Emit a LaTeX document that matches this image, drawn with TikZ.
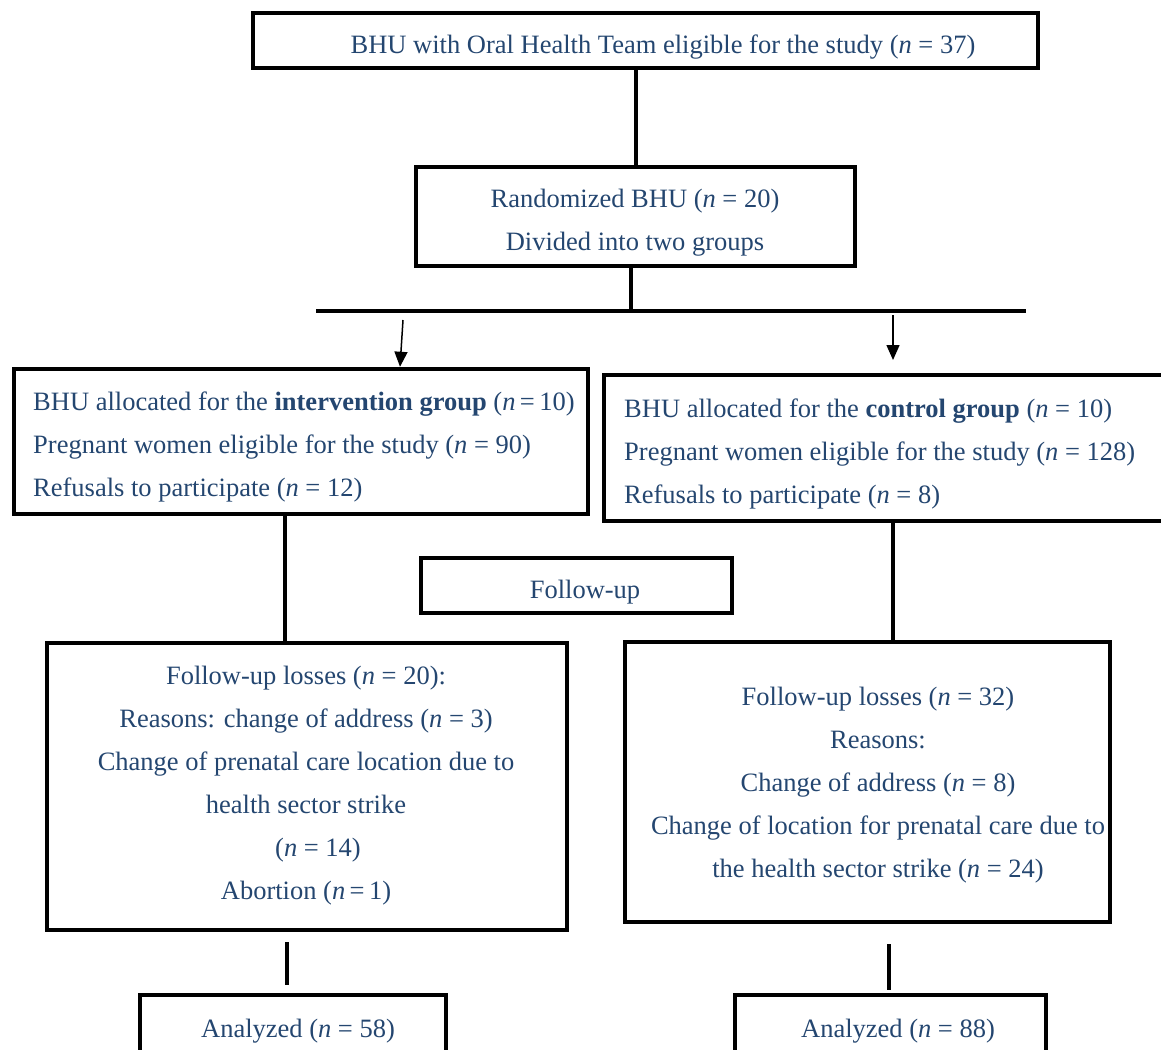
\documentclass[tikz,border=0pt]{standalone}
\usepackage{fontspec}
\setmainfont{Liberation Serif}
\usetikzlibrary{arrows.meta}
\definecolor{txt}{RGB}{36,70,112}
\begin{document}
\begin{tikzpicture}[x=1pt,y=-1pt,
  box/.style={draw=black, line width=4.5pt, fill=white, inner sep=0pt},
  lbl/.style={text=txt, font=\fontsize{26.5}{43}\selectfont, align=center, inner sep=0pt},
  conn/.style={line width=4pt},
  arr/.style={line width=1.5pt, -{Triangle[width=13pt,length=15pt]}}
]
\useasboundingbox (0,0) rectangle (1161,1049);
\clip (0,0) rectangle (1161,1049);

% boxes
\node[box, minimum width=785pt, minimum height=55pt] (top) at (645.5,40.5) {};
\node[box, minimum width=439pt, minimum height=99pt] (rand) at (635.5,216.5) {};
\node[box, minimum width=574pt, minimum height=145pt] (int) at (301,441.5) {};
\node[box, minimum width=574pt, minimum height=146pt] (ctrl) at (891,448) {};
\node[box, minimum width=311pt, minimum height=55pt] (follow) at (576.5,585.5) {};
\node[box, minimum width=520pt, minimum height=287pt] (lossL) at (307,786.5) {};
\node[box, minimum width=485pt, minimum height=280pt] (lossR) at (867.5,782) {};
\node[box, minimum width=306pt, minimum height=90pt] (anL) at (293,1040) {};
\node[box, minimum width=311pt, minimum height=90pt] (anR) at (890.5,1040) {};

% texts
\node[lbl] (topT) at (663,47) {BHU with Oral Health Team eligible for the study (\textit{n} = 37)};
\node[lbl] (randT) at (635,223) {Randomized BHU (\textit{n} = 20)\\Divided into two groups};
\node[lbl, anchor=west, align=left] (intT) at (33,446.5) {BHU allocated for the \textbf{intervention group} (\textit{n}\,=\,10)\\Pregnant women eligible for the study (\textit{n} = 90)\\Refusals to participate (\textit{n} = 12)};
\node[lbl, anchor=west, align=left] (ctrlT) at (624,453.5) {BHU allocated for the \textbf{control group} (\textit{n} = 10)\\Pregnant women eligible for the study (\textit{n} = 128)\\Refusals to participate (\textit{n} = 8)};
\node[lbl] (followT) at (585,592) {Follow-up};
\node[lbl] (lossLT) at (306,785.5) {Follow-up losses (\textit{n} = 20):\\Reasons: change of address (\textit{n} = 3)\\Change of prenatal care location due to\\health sector strike\\\hspace*{24pt}(\textit{n} = 14)\\Abortion (\textit{n}\,=\,1)};
\node[lbl] (lossRT) at (878,785.5) {Follow-up losses (\textit{n} = 32)\\Reasons:\\Change of address (\textit{n} = 8)\\Change of location for prenatal care due to\\the health sector strike (\textit{n} = 24)};
\node[lbl] (anLT) at (298,1031) {Analyzed (\textit{n} = 58)};
\node[lbl] (anRT) at (898,1031) {Analyzed (\textit{n} = 88)};

% connector coordinates
\coordinate (x1) at (636,0);
\coordinate (bj) at (631,311);
\coordinate (barL) at (316,311);
\coordinate (barR) at (1026,311);
\coordinate (a1s) at (403,320);
\coordinate (a1e) at (400,0);
\coordinate (a2s) at (893,315);
\coordinate (a2e) at (893,360);
\coordinate (x2) at (285,0);
\coordinate (x3) at (893,0);
\coordinate (l1s) at (287,942);
\coordinate (l1e) at (287,985);
\coordinate (l2s) at (889,944);
\coordinate (l2e) at (889,990);

% connectors
\draw[conn] (top.south -| x1) -- (rand.north -| x1);
\draw[conn] (rand.south -| bj) -- (bj);
\draw[conn] (barL) -- (barR);
\draw[arr] (a1s) -- (int.north -| a1e);
\draw[arr] (a2s) -- (a2e);
\draw[conn] (int.south -| x2) -- (lossL.north -| x2);
\draw[conn] (ctrl.south -| x3) -- (lossR.north -| x3);
\draw[conn] (l1s) -- (l1e);
\draw[conn] (l2s) -- (l2e);
\end{tikzpicture}
\end{document}
